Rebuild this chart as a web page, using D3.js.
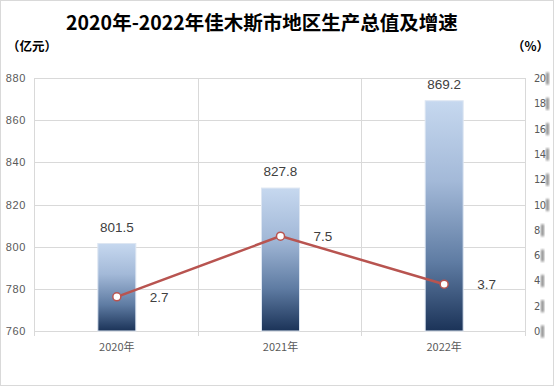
<!DOCTYPE html>
<html>
<head>
<meta charset="utf-8">
<script src="https://cdn.jsdelivr.net/npm/d3@7"></script>
<style>
  body { margin: 0; background: #fff; }
  svg text { font-family: "Noto Sans CJK SC", "Noto Sans", sans-serif; }
</style>
</head>
<body>
<div class="vis"></div>
<script>
const years = ["2020年", "2021年", "2022年"];
const gdp = [801.5, 827.8, 869.2];
const growth = [2.7, 7.5, 3.7];
const leftTicks = [760, 780, 800, 820, 840, 860, 880];
const rightTicks = [0, 2, 4, 6, 8, 10, 12, 14, 16, 18, 20];

const W = 555, H = 387;
const margin = { top: 78, right: 29, bottom: 56, left: 35 };
const width = W - margin.left - margin.right;
const height = H - margin.top - margin.bottom;

const root = d3.select(".vis").append("svg").attr("width", W).attr("height", H);

// outer frame
root.append("rect").attr("x", 0.5).attr("y", 0.5).attr("width", W - 2).attr("height", H - 2)
  .attr("fill", "#fff").attr("stroke", "#d9d9d9");

const defs = root.append("defs");
const grad = defs.append("linearGradient").attr("id", "barGrad")
  .attr("x1", 0).attr("y1", 0).attr("x2", 0).attr("y2", 1);
grad.append("stop").attr("offset", "0%").attr("stop-color", "#c6d8ef");
grad.append("stop").attr("offset", "35%").attr("stop-color", "#a3b9d8");
grad.append("stop").attr("offset", "70%").attr("stop-color", "#5f7ca3");
grad.append("stop").attr("offset", "100%").attr("stop-color", "#1b3358");
defs.append("filter").attr("id", "blur").append("feGaussianBlur").attr("stdDeviation", 0.8);

root.append("text").attr("x", 262).attr("y", 30).attr("text-anchor", "middle")
  .attr("font-size", 19.5).attr("font-weight", "bold").attr("fill", "#000")
  .text("2020年-2022年佳木斯市地区生产总值及增速");
root.append("text").attr("x", 7).attr("y", 51).attr("font-size", 12.5).attr("font-weight", "bold")
  .attr("fill", "#000").text("（亿元）");
root.append("text").attr("x", 549).attr("y", 51).attr("text-anchor", "end").attr("font-size", 12.5)
  .attr("font-weight", "bold").attr("fill", "#000").text("（%）");

const svg = root.append("g").attr("transform", "translate(" + margin.left + "," + margin.top + ")");

const x = d3.scaleBand().domain(years).range([0, width]);
const y = d3.scaleLinear().domain([760, 880]).range([height, 0]);
const y2 = d3.scaleLinear().domain([0, 20]).range([height, 0]);

// horizontal grid
svg.append("g").selectAll("line").data(leftTicks).enter().append("line")
  .attr("x1", 0).attr("x2", width)
  .attr("y1", d => Math.round(y(d)) + 0.5).attr("y2", d => Math.round(y(d)) + 0.5)
  .attr("stroke", "#d9d9d9");

// vertical category separators
const seps = years.map(d => x(d)).concat([width]);
svg.append("g").selectAll("line").data(seps).enter().append("line")
  .attr("x1", d => Math.round(d) - 0.5).attr("x2", d => Math.round(d) - 0.5)
  .attr("y1", 0).attr("y2", height + 5)
  .attr("stroke", "#d9d9d9");

// left axis
const yAxis = svg.append("g").call(d3.axisLeft(y).tickValues(leftTicks).tickSize(0).tickPadding(9));
yAxis.select(".domain").remove();
yAxis.selectAll("text").attr("font-size", 11).attr("fill", "#595959")
  .style("font-family", "'Liberation Sans', sans-serif").attr("letter-spacing", 0.6);

// right axis
const y2Axis = svg.append("g").attr("transform", "translate(" + width + ",0)")
  .call(d3.axisRight(y2).tickValues(rightTicks).tickSize(0).tickPadding(8));
y2Axis.select(".domain").remove();
y2Axis.selectAll("text").attr("font-size", 11).attr("fill", "#595959")
  .style("font-family", "'DejaVu Sans Condensed', 'Liberation Sans', sans-serif")
  .attr("letter-spacing", -0.5);
y2Axis.selectAll(".tick").append("rect")
  .attr("x", d => (d >= 10 ? 20 : 15)).attr("y", -6).attr("width", 3).attr("height", 12)
  .attr("fill", "#8c8c8c").attr("filter", "url(#blur)");

// x axis labels
svg.append("g").selectAll("text").data(years).enter().append("text")
  .attr("x", d => x(d) + x.bandwidth() / 2).attr("y", height + 20)
  .attr("text-anchor", "middle").attr("font-size", 11).attr("fill", "#595959")
  .text(d => d);

// bars
const bw = 38;
svg.append("g").selectAll("rect").data(gdp).enter().append("rect")
  .attr("x", (d, i) => x(years[i]) + x.bandwidth() / 2 - bw / 2)
  .attr("y", d => y(d))
  .attr("width", bw)
  .attr("height", d => height - y(d))
  .attr("fill", "url(#barGrad)")
  .attr("stroke", "#dde6f2").attr("stroke-width", 1);

svg.append("g").selectAll("text").data(gdp).enter().append("text")
  .attr("x", (d, i) => x(years[i]) + x.bandwidth() / 2)
  .attr("y", d => y(d) - 12)
  .attr("text-anchor", "middle").attr("font-size", 13.5).attr("fill", "#404040")
  .style("font-family", "'Liberation Sans', sans-serif")
  .text(d => d.toFixed(1));

// growth line
const line = d3.line()
  .x((d, i) => x(years[i]) + x.bandwidth() / 2)
  .y(d => y2(d));

svg.append("path").datum(growth)
  .attr("fill", "none").attr("stroke", "#b85450").attr("stroke-width", 2.5)
  .attr("d", line);

svg.append("g").selectAll("circle").data(growth).enter().append("circle")
  .attr("cx", (d, i) => x(years[i]) + x.bandwidth() / 2)
  .attr("cy", d => y2(d))
  .attr("r", 4)
  .attr("fill", "#fff").attr("stroke", "#b85450").attr("stroke-width", 1.5);

svg.append("g").selectAll("text").data(growth).enter().append("text")
  .attr("x", (d, i) => x(years[i]) + x.bandwidth() / 2 + 33)
  .attr("y", d => y2(d) + 5)
  .attr("font-size", 13.5).attr("fill", "#404040")
  .style("font-family", "'Liberation Sans', sans-serif")
  .text(d => d.toFixed(1));
</script>
</body>
</html>
